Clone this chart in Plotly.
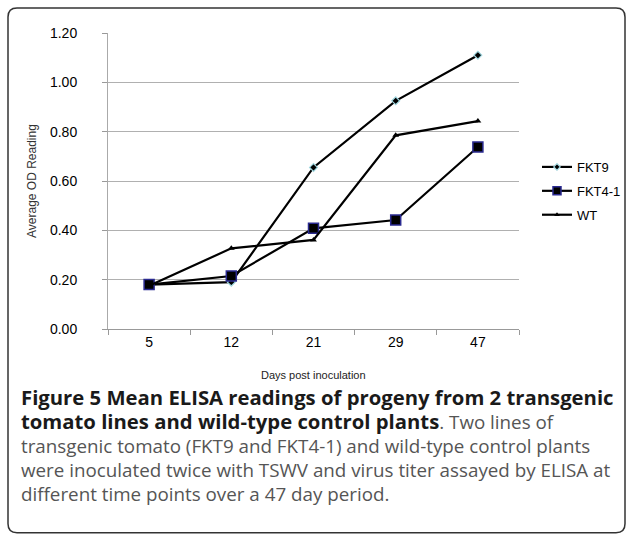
import plotly.graph_objects as go

days = ["5", "12", "21", "29", "47"]
fkt9 = [0.18, 0.19, 0.655, 0.925, 1.11]
fkt41 = [0.18, 0.215, 0.408, 0.442, 0.738]
wt = [0.175, 0.327, 0.361, 0.785, 0.843]
y_ticks = [0.0, 0.2, 0.4, 0.6, 0.8, 1.0, 1.2]
series_names = ["FKT9", "FKT4-1", "WT"]

W, H = 627, 535
L, R, T, B = 108, 519, 32.5, 329.5

def px(x):
    return (x - L) / (R - L)

def py(y):
    return (B - y) / (B - T)

styles = [
    dict(symbol="diamond", size=6, color="black", line=dict(color="#9fd6df", width=1.2)),
    dict(symbol="square", size=10, color="black", line=dict(color="#2a2a90", width=1.5)),
    dict(symbol="triangle-up", size=6, color="black", line=dict(width=0)),
]
legend_sizes = [5, 8, 5]

fig = go.Figure()
for name, vals, st in zip(series_names, [fkt9, fkt41, wt], styles):
    fig.add_trace(go.Scatter(x=days, y=vals, name=name, mode="lines+markers",
                             line=dict(color="black", width=2.2),
                             marker=st, showlegend=False))
for i, (name, st, ls) in enumerate(zip(series_names, styles, legend_sizes)):
    m = dict(st)
    m["size"] = ls
    fig.add_trace(go.Scatter(x=[None], y=[None], name=name, mode="lines+markers",
                             line=dict(color="black", width=2.2), marker=m,
                             legendgroup=f"g{i}", showlegend=True))

fig.update_xaxes(type="category", categoryorder="array", categoryarray=days,
                 range=[-0.5, 4.5], showline=True, linecolor="#999", linewidth=1,
                 ticks="outside", tickson="boundaries", ticklen=5, tickcolor="#999",
                 showgrid=False, zeroline=False,
                 tickfont=dict(family="Arial", size=14, color="black"))
fig.update_yaxes(range=[0, 1.2], tickvals=y_ticks,
                 ticktext=[f"{v:.2f}" for v in y_ticks],
                 showline=True, linecolor="#aaa", linewidth=1,
                 ticks="outside", ticklen=5, tickcolor="#999",
                 showgrid=True, gridcolor="#b0b0b0", gridwidth=1, zeroline=False,
                 ticklabelstandoff=22,
                 tickfont=dict(family="Arial", size=14, color="black"))

annotations = [
    dict(text="Average OD Reading", x=px(32), y=0.5, xref="paper", yref="paper",
         textangle=-90, showarrow=False, xanchor="center", yanchor="middle",
         font=dict(family="Arial", size=12, color="#333")),
    dict(text="Days post inoculation", x=px(313), y=py(376), xref="paper", yref="paper",
         showarrow=False, xanchor="center", yanchor="middle",
         font=dict(family="Arial", size=11, color="#222")),
]

BS = '<span style="font-size:20.3px;color:#1a1a1a"><b>'
BE = '</b></span>'
RS = '<span style="font-size:18.8px">'
RE = '</span>'
cap_lines = [
    BS + "Figure 5 Mean ELISA readings of progeny from 2 transgenic" + BE,
    BS + "tomato lines and wild-type control plants" + BE + RS + ". Two lines of" + RE,
    RS + "transgenic tomato (FKT9 and FKT4-1) and wild-type control plants" + RE,
    RS + "were inoculated twice with TSWV and virus titer assayed by ELISA at" + RE,
    RS + "different time points over a 47 day period." + RE,
]
annotations.append(dict(text="<br>".join(cap_lines), x=px(19), y=py(446),
                        xref="paper", yref="paper", showarrow=False,
                        xanchor="left", yanchor="middle", align="left",
                        font=dict(family="Open Sans", size=18.46, color="#555")))

# rounded border
x0, y0, x1, y1, r = 8, 7.5, 625, 534, 9
path = (f"M {px(x0+r)},{py(y0)} L {px(x1-r)},{py(y0)} Q {px(x1)},{py(y0)} {px(x1)},{py(y0+r)} "
        f"L {px(x1)},{py(y1-r)} Q {px(x1)},{py(y1)} {px(x1-r)},{py(y1)} "
        f"L {px(x0+r)},{py(y1)} Q {px(x0)},{py(y1)} {px(x0)},{py(y1-r)} "
        f"L {px(x0)},{py(y0+r)} Q {px(x0)},{py(y0)} {px(x0+r)},{py(y0)} Z")
shapes = [dict(type="path", path=path, xref="paper", yref="paper",
               line=dict(color="#333", width=1.5))]

fig.update_layout(
    width=W, height=H, autosize=False,
    margin=dict(l=L, r=W - R, t=T, b=H - B, pad=0, autoexpand=False),
    paper_bgcolor="white", plot_bgcolor="white",
    showlegend=True,
    legend=dict(x=px(537), y=py(191), xanchor="left", yanchor="middle",
                font=dict(family="Arial", size=13, color="black"),
                bgcolor="rgba(0,0,0,0)", itemwidth=30, tracegroupgap=4),
    annotations=annotations, shapes=shapes,
)

fig.write_html(
    "out.html",
    config={"responsive": False, "displayModeBar": False},
    post_script="document.body.style.margin='0';document.body.style.overflow='hidden';",
)
